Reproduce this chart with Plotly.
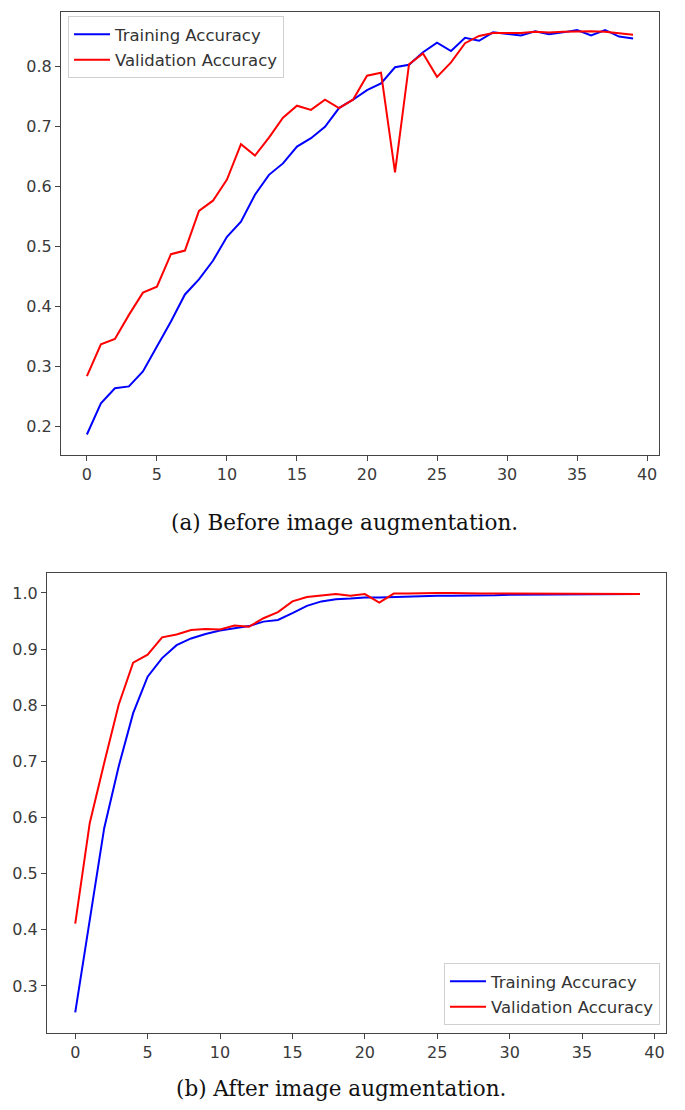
import plotly.graph_objects as go

epochs = list(range(40))

train_acc_before = [0.187, 0.239, 0.264, 0.267, 0.292, 0.333, 0.375, 0.420, 0.445, 0.476,
                    0.516, 0.541, 0.586, 0.619, 0.638, 0.666, 0.680, 0.699, 0.730, 0.744,
                    0.760, 0.771, 0.798, 0.802, 0.823, 0.839, 0.825, 0.847, 0.842, 0.856,
                    0.854, 0.851, 0.858, 0.853, 0.856, 0.860, 0.851, 0.860, 0.849, 0.846]
val_acc_before = [0.284, 0.337, 0.346, 0.386, 0.423, 0.433, 0.487, 0.493, 0.559, 0.576,
                  0.611, 0.670, 0.651, 0.681, 0.714, 0.734, 0.727, 0.744, 0.730, 0.744,
                  0.784, 0.789, 0.623, 0.803, 0.821, 0.782, 0.806, 0.838, 0.850, 0.855,
                  0.855, 0.855, 0.857, 0.856, 0.857, 0.858, 0.858, 0.857, 0.854, 0.852]

train_acc_after = [0.253, 0.413, 0.581, 0.691, 0.786, 0.851, 0.884, 0.907, 0.919, 0.927,
                   0.933, 0.937, 0.941, 0.949, 0.952, 0.964, 0.977, 0.985, 0.989, 0.990,
                   0.992, 0.992, 0.993, 0.993, 0.994, 0.995, 0.995, 0.995, 0.996, 0.996,
                   0.997, 0.997, 0.997, 0.997, 0.998, 0.998, 0.998, 0.998, 0.998, 0.998]
val_acc_after = [0.411, 0.590, 0.697, 0.801, 0.876, 0.890, 0.921, 0.926, 0.934, 0.936,
                 0.935, 0.942, 0.940, 0.955, 0.966, 0.985, 0.993, 0.995, 0.998, 0.995,
                 0.998, 0.983, 0.999, 0.999, 1.000, 1.000, 1.000, 0.999, 0.999, 0.999,
                 0.999, 0.999, 0.999, 0.999, 0.999, 0.999, 0.999, 0.999, 0.998, 0.998]

series_names = ["Training Accuracy", "Validation Accuracy"]
series_colors = ["#0000ff", "#ff0000"]
x_ticks = [0, 5, 10, 15, 20, 25, 30, 35, 40]
y_ticks_before = [0.2, 0.3, 0.4, 0.5, 0.6, 0.7, 0.8]
y_ticks_after = [0.3, 0.4, 0.5, 0.6, 0.7, 0.8, 0.9, 1.0]
captions = ["(a) Before image augmentation.", "(b) After image augmentation."]

# page body has an 8px default margin; figure is sized so it fits the window
OFF = 8
W, H = 685 - OFF, 1110 - OFF

fig = go.Figure()

for name, color, ys in zip(series_names, series_colors, [train_acc_before, val_acc_before]):
    fig.add_trace(go.Scatter(x=epochs, y=ys, mode="lines", name=name,
                             line=dict(color=color, width=2),
                             xaxis="x", yaxis="y", legend="legend",
                             legendgroup="a" + name))
for name, color, ys in zip(series_names, series_colors, [train_acc_after, val_acc_after]):
    fig.add_trace(go.Scatter(x=epochs, y=ys, mode="lines", name=name,
                             line=dict(color=color, width=2),
                             xaxis="x2", yaxis="y2", legend="legend2",
                             legendgroup="b" + name))

tick_font = dict(family="DejaVu Sans", size=16, color="#3a3a3a")
axis_common = dict(showgrid=False, zeroline=False, showline=True, mirror=True,
                   linecolor="#444444", linewidth=1, ticks="outside", ticklen=5,
                   tickcolor="#444444", tickfont=tick_font)


def px_x(s):
    return (s - OFF) / W


def px_y(s):
    return 1 - (s - OFF) / H


legend_common = dict(bgcolor="rgba(255,255,255,0.85)", bordercolor="#d0d0d0", borderwidth=1,
                     font=dict(family="DejaVu Sans", size=16.5, color="#333333"),
                     tracegroupgap=1, itemwidth=36)

fig.update_layout(
    width=W, height=H,
    margin=dict(l=0, r=0, t=0, b=0),
    paper_bgcolor="white", plot_bgcolor="white",
    xaxis=dict(domain=[px_x(61), px_x(659)], range=[-1.85, 40.85],
               tickvals=x_ticks, anchor="y", **axis_common),
    yaxis=dict(domain=[px_y(455), px_y(12)], range=[0.1529, 0.8899],
               tickvals=y_ticks_before, tickformat=".1f", anchor="x", **axis_common),
    xaxis2=dict(domain=[px_x(47), px_x(666)], range=[-1.95, 40.8],
                tickvals=x_ticks, anchor="y2", **axis_common),
    yaxis2=dict(domain=[px_y(1033), px_y(573)], range=[0.2162, 1.0356],
                tickvals=y_ticks_after, tickformat=".1f", anchor="x2", **axis_common),
    legend=dict(x=px_x(68), y=px_y(16), xanchor="left", yanchor="top", **legend_common),
    legend2=dict(x=px_x(660), y=px_y(1025), xanchor="right", yanchor="bottom", **legend_common),
    showlegend=True,
)

fig.add_annotation(text=captions[0], x=px_x(344), y=px_y(522), xref="paper", yref="paper",
                   showarrow=False, xanchor="center", yanchor="middle",
                   font=dict(family="DejaVu Serif", size=21.5, color="#111111"))
fig.add_annotation(text=captions[1], x=px_x(341), y=px_y(1088), xref="paper", yref="paper",
                   showarrow=False, xanchor="center", yanchor="middle",
                   font=dict(family="DejaVu Serif", size=21.5, color="#111111"))

fig.write_html("out.html")
